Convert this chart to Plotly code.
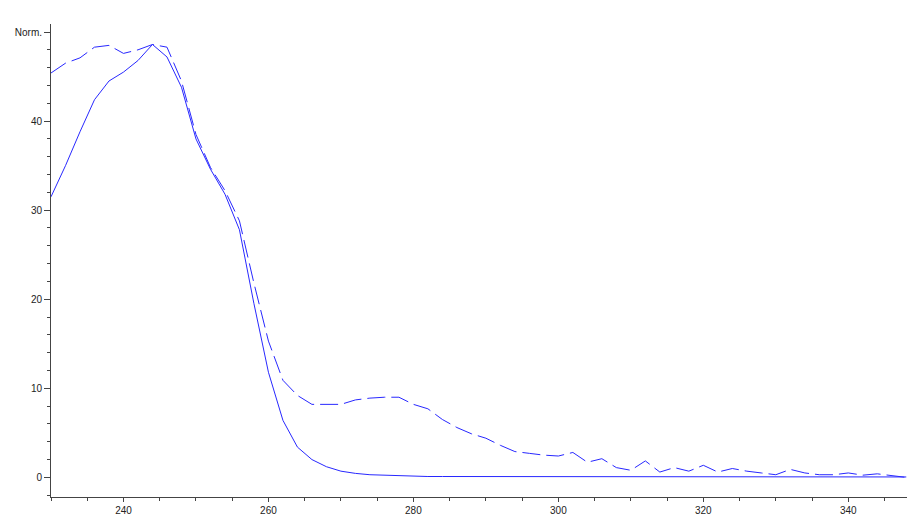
import plotly.graph_objects as go

wavelength = [230, 232, 234, 236, 238, 240, 242, 244, 246, 248, 250, 252, 254, 256, 258,
              260, 262, 264, 266, 268, 270, 272, 274, 276, 278, 280, 282, 284, 286, 288,
              290, 292, 294, 296, 298, 300, 302, 304, 306, 308, 310, 312, 314, 316, 318,
              320, 322, 324, 326, 328, 330, 332, 334, 336, 338, 340, 342, 344, 346, 348]

solid_norm = [31.5, 35.0, 38.8, 42.4, 44.5, 45.5, 46.8, 48.6, 47.2, 43.8, 38.0, 34.6, 31.8, 27.8, 19.5,
              11.8, 6.4, 3.4, 2.0, 1.2, 0.7, 0.45, 0.3, 0.25, 0.15, 0.12, 0.1, 0.1, 0.1, 0.1,
              0.1, 0.1, 0.1, 0.1, 0.05, 0.1, 0.1, 0.05, 0.1, 0.05, 0.05, 0.05, 0.05, 0.05, 0.05,
              0.05, 0.05, 0.05, 0.05, 0.05, 0.05, 0.05, 0.05, 0.05, 0.05, 0.05, 0.05, 0.05, 0.05, 0.05]

dashed_norm = [45.4, 46.5, 47.1, 48.3, 48.5, 47.6, 48.0, 48.6, 48.3, 44.5, 38.5, 34.8, 32.2, 28.8, 21.8,
               15.3, 10.9, 9.2, 8.2, 8.2, 8.2, 8.7, 8.9, 9.0, 9.0, 8.2, 7.7, 6.5, 5.6, 4.9,
               4.4, 3.6, 2.9, 2.7, 2.5, 2.4, 2.8, 1.7, 2.1, 1.1, 0.8, 1.85, 0.6, 1.1, 0.7,
               1.36, 0.6, 1.0, 0.7, 0.5, 0.3, 0.9, 0.5, 0.3, 0.3, 0.5, 0.25, 0.4, 0.2, 0.0]

stray_x = [240.3, 248.6]
stray_y = [52.0, 52.0]

y_tickvals = [0, 10, 20, 30, 40, 50]
y_ticktext = ["0", "10", "20", "30", "40", "Norm."]
x_tickvals = [240, 260, 280, 300, 320, 340]

blue = "rgb(40,40,255)"

fig = go.Figure()
fig.add_trace(go.Scatter(x=wavelength, y=dashed_norm, mode="lines",
                         line=dict(color=blue, width=1, dash="18px,6px"),
                         showlegend=False, hoverinfo="skip"))
fig.add_trace(go.Scatter(x=wavelength, y=solid_norm, mode="lines",
                         line=dict(color=blue, width=1),
                         showlegend=False, hoverinfo="skip"))
fig.add_trace(go.Scatter(x=stray_x, y=stray_y, mode="markers",
                         marker=dict(color=blue, size=2),
                         cliponaxis=False, showlegend=False, hoverinfo="skip"))

axis_font = dict(family="Liberation Sans, Arial, sans-serif", size=10, color="#222")

fig.update_layout(
    width=907, height=516,
    margin=dict(l=51, r=0, t=24, b=19, autoexpand=False),
    paper_bgcolor="white", plot_bgcolor="white",
    xaxis=dict(range=[230, 348.1], tickvals=x_tickvals, ticks="outside", ticklen=4,
               tickcolor="#444", showgrid=False, zeroline=False, showline=True,
               linecolor="#444", linewidth=1, tickfont=axis_font, automargin=False,
               minor=dict(dtick=5, tick0=230, ticks="outside", ticklen=3, tickcolor="#444",
                          showgrid=False)),
    yaxis=dict(range=[-2.2, 50.9], tickvals=y_tickvals, ticktext=y_ticktext,
               ticks="outside", ticklen=6, tickcolor="#444", showgrid=False,
               zeroline=False, showline=True, linecolor="#444", linewidth=1,
               tickfont=axis_font, automargin=False,
               minor=dict(dtick=2, tick0=0, ticks="outside", ticklen=3, tickcolor="#444",
                          showgrid=False)),
)

fig.write_html("out.html", config={"displayModeBar": False},
               post_script="document.body.style.margin='0';document.body.style.overflow='hidden';")
